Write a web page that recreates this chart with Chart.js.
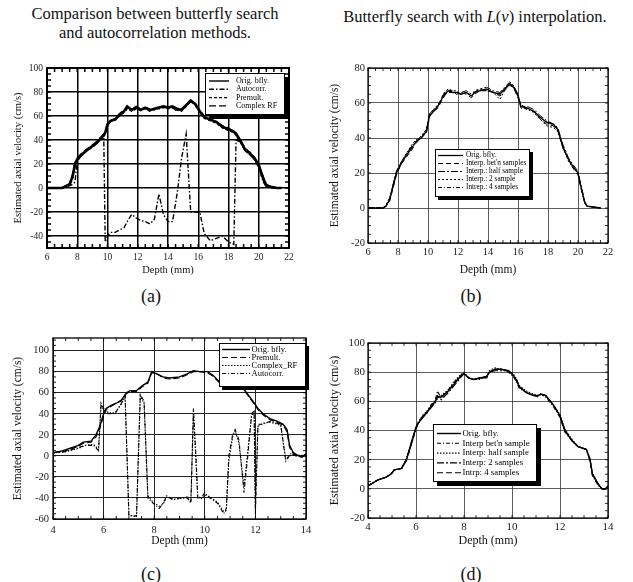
<!DOCTYPE html>
<html><head><meta charset="utf-8">
<script src="https://cdn.jsdelivr.net/npm/chart.js@4.4.0/dist/chart.umd.min.js"></script>
<style>
body{margin:0;background:#fff;width:633px;height:582px;position:relative;overflow:hidden;font-family:"Liberation Serif","Times New Roman",serif;color:#111;}
canvas{position:absolute;}
.t{position:absolute;white-space:nowrap;transform:translateX(-50%);text-align:center;}
</style></head><body>
<div class="t" style="left:155px;top:4px;font-size:16.5px;line-height:19px;">Comparison between butterfly search<br>and autocorrelation methods.</div>
<div class="t" style="left:475px;top:7px;font-size:16.5px;line-height:19px;">Butterfly search with <i>L</i>(<i>v</i>) interpolation.</div>
<div class="t" style="left:151px;top:286px;font-size:18px;line-height:20px;">(a)</div>
<div class="t" style="left:471px;top:286px;font-size:18px;line-height:20px;">(b)</div>
<div class="t" style="left:151px;top:564px;font-size:18px;line-height:20px;">(c)</div>
<div class="t" style="left:471px;top:564px;font-size:18px;line-height:20px;">(d)</div>
<canvas id="ca"></canvas>
<canvas id="cb"></canvas>
<canvas id="cc"></canvas>
<canvas id="cd"></canvas>
<script>
// ---------- Panel (a) ----------
const A_depth = [6.0,7.0,7.3,7.5,7.7,7.85,8.0,8.3,8.6,8.9,9.3,9.6,9.75,9.85,10.0,10.2,10.5,10.8,11.1,11.3,11.6,11.9,12.2,12.5,12.8,13.1,13.4,13.7,14.0,14.3,14.6,14.9,15.2,15.5,15.8,16.1,16.4,16.8,17.2,17.6,18.0,18.35,18.5,18.8,19.1,19.4,19.7,20.0,20.3,20.5,20.8,21.2,21.5];
const A_orig = [0,0,2,3,10,20,24,28,31,34,38,42,44,46,53,56,57,61,64,68,65,67,65,67,65,66,67,68,67,68,66,65,69,73,70,64,59,57,55,51,49,47,45,39,32,29,25,19,8,2,1,0,0];
const A_autocorr = [0,0,1,2,3,5,22,28,32,34,37,41,44,-45,-40,-37,-37,-35,-33,-28,-22,-25,-27,-28,-30,-26,-5,-22,-28,-28,-5,25,45,-20,-20,-20,-38,-44,-42,-40,-45,-47,40,38,31,28,24,17,5,1,0,0,0];
const A_premult = [0,0,2,3,8,18,23,27,31,33,37,41,43,45,52,55,57,60,63,66,64,66,65,66,64,66,66,67,66,67,65,64,68,72,69,63,58,56,54,50,48,46,44,38,31,28,24,18,6,2,1,0,0];
const A_complex = [0,0,2,4,12,21,25,29,32,35,39,43,45,47,54,56,58,62,65,67,66,68,66,67,66,65,68,67,68,67,64,66,70,72,70,65,60,57,55,52,50,47,46,40,33,30,26,20,9,3,1,0,0];
const A_xTicks = [6,8,10,12,14,16,18,20,22];
const A_yTicks = [-40,-20,0,20,40,60,80,100];

// ---------- Panel (b) ----------
const B_depth = [6.0,7.0,7.2,7.45,7.6,7.75,7.9,8.2,8.55,8.9,9.2,9.55,9.9,10.1,10.35,10.65,10.9,11.1,11.35,11.65,11.9,12.2,12.55,12.9,13.1,13.45,13.9,14.35,14.8,15.1,15.45,15.7,16.0,16.2,16.65,17.1,17.45,17.9,18.35,18.65,19.0,19.35,19.65,20.0,20.2,20.45,20.6,21.5];
const B_orig = [0,0,1,5,10,15,20,25,30,34,38,40,44,53,55,58,62,65,67,66,66,65,66,64,66,67,68,66,65,68,71,69,64,58,57,55,52,49,48,45,35,28,24,20,12,3,1,0];
const B_betn = [0,0,1,4,9,14,19,25,29,33,37,40,43,52,55,57,61,64,67,67,65,66,65,63,65,67,67,66,64,67,70,69,63,57,57,55,51,48,47,44,34,28,23,19,11,3,1,0];
const B_half = [0,0,1,5,11,16,21,26,31,35,38,41,45,54,56,58,63,66,68,66,66,66,67,65,66,68,69,67,66,69,72,70,65,58,58,56,53,50,48,46,36,29,25,21,13,4,1,0];
const B_two = [0,0,2,6,11,16,21,26,31,36,39,41,45,54,56,59,62,66,68,67,67,65,66,64,67,68,67,66,62,67,71,70,64,59,57,54,51,47,46,44,35,27,23,20,12,3,1,0];
const B_four = [0,0,1,5,10,15,21,26,30,35,38,40,44,53,56,58,62,65,66,66,66,65,66,64,66,67,68,66,65,68,71,69,64,58,56,55,52,49,47,45,34,28,23,20,12,3,1,0];
const B_xTicks = [6,8,10,12,14,16,18,20,22];
const B_yTicks = [-20,0,20,40,60,80];

// ---------- Panel (c) ----------
const C_depth = [4.0,4.4,4.65,5.0,5.2,5.5,5.7,5.85,6.0,6.1,6.3,6.5,6.7,6.9,7.05,7.3,7.55,7.75,7.9,8.1,8.35,8.6,9.0,9.3,9.55,9.8,10.1,10.3,10.6,10.75,11.0,11.25,11.45,11.65,11.9,12.1,12.3,12.6,12.85,13.1,13.25,13.35,13.5,13.7,13.85,14.0];
const C_orig = [3,5,7,10,13,14,20,28,40,45,48,50,53,60,62,62,67,70,80,78,75,74,75,78,81,80,80,77,70,67,65,64,66,60,52,45,40,35,33,30,25,10,3,0,-1,2];
const C_premult = [3,4,6,9,12,13,18,26,38,44,47,50,52,59,61,61,66,69,79,78,74,73,74,77,80,80,79,76,69,66,64,63,65,59,51,44,39,34,32,29,23,8,2,-1,-1,1];
const C_exDepth = [4.0,4.5,5.0,5.3,5.6,5.8,5.9,6.0,6.2,6.45,6.7,6.85,7.0,7.3,7.45,7.6,7.75,7.95,8.2,8.35,8.5,8.75,9.0,9.3,9.45,9.55,9.65,9.72,9.85,10.0,10.2,10.5,10.75,10.85,10.95,11.1,11.2,11.35,11.55,11.7,11.85,11.95,12.0,12.1,12.3,12.6,13.0,13.2,13.4,13.6,14.0];
const C_complex = [3,4,7,10,11,6,48,44,41,41,49,56,-56,-58,57,50,-38,-44,-48,-46,-39,-41,-41,-39,-44,40,-5,-38,-41,-37,-39,-44,-53,-52,-5,18,24,12,-30,5,38,42,-50,28,31,32,29,-3,1,1,0];
const C_autocorr = [3,4,8,10,10,5,50,45,40,40,50,57,-57,-57,58,52,-40,-45,-50,-45,-38,-42,-40,-40,-45,45,0,-40,-40,-35,-40,-45,-55,-50,0,20,25,15,-35,0,40,43,-55,30,30,33,30,-5,2,0,0];
const C_xTicks = [4,6,8,10,12,14];
const C_yTicks = [-60,-40,-20,0,20,40,60,80,100];

// ---------- Panel (d) ----------
const D_depth = [4.0,4.2,4.4,4.75,4.95,5.1,5.4,5.6,5.75,6.0,6.1,6.3,6.45,6.55,6.8,6.9,7.05,7.35,7.6,7.85,8.0,8.2,8.4,8.65,8.95,9.05,9.3,9.55,9.85,10.05,10.2,10.3,10.6,10.9,11.1,11.2,11.4,11.7,12.0,12.2,12.5,12.75,13.1,13.25,13.35,13.6,13.75,13.9,14.0];
const D_orig = [2,4,6,8,10,13,14,20,28,42,45,50,52,55,60,63,63,67,72,77,79,76,75,76,77,80,82,82,81,78,74,70,66,64,64,65,64,58,50,40,33,29,27,20,10,3,0,0,2];
const D_betn = [2,4,6,8,10,13,14,19,27,41,45,50,53,56,61,67,62,68,73,78,79,76,75,76,77,80,82,82,80,77,73,69,66,64,64,65,63,57,49,39,33,29,27,19,9,2,0,0,2];
const D_half = [2,4,6,8,10,13,14,21,29,43,46,51,53,55,59,62,64,68,74,78,80,76,75,75,77,81,83,82,81,79,75,71,67,65,64,65,64,58,51,41,34,29,27,21,11,3,0,0,2];
const D_two = [2,4,6,8,10,13,14,20,28,42,45,49,52,54,59,64,61,66,71,76,79,76,75,76,76,80,81,81,81,78,74,70,66,64,63,65,64,58,50,40,33,29,27,20,10,3,0,0,2];
const D_four = [2,4,6,8,10,13,14,20,29,42,46,50,52,55,60,63,63,67,73,77,79,76,75,76,77,80,82,82,81,78,74,70,66,64,64,65,64,58,50,40,33,29,27,20,10,3,0,0,2];
const D_xTicks = [4,6,8,10,12,14];
const D_yTicks = [-20,0,20,40,60,80,100];

const FONT = '"Liberation Serif", "Times New Roman", serif';
function pts(xs, ys){ return xs.map((x,i)=>({x:x, y:ys[i]})); }

const framePlugin = {
  id:'frame',
  afterDatasetsDraw(chart, args, o){
    const {ctx, chartArea:a, scales:{x, y}} = chart;
    ctx.save();
    ctx.strokeStyle = '#000';
    ctx.lineWidth = o.tickWidth;
    ctx.beginPath();
    const nx = Math.round((x.max - x.min)/o.xMinor);
    for (let i=0;i<=nx;i++){
      const px = x.getPixelForValue(x.min + i*o.xMinor);
      ctx.moveTo(px, a.bottom); ctx.lineTo(px, a.bottom - o.tickLen);
      ctx.moveTo(px, a.top); ctx.lineTo(px, a.top + o.tickLen);
    }
    const y0 = Math.ceil(y.min/o.yMinor)*o.yMinor;
    const ny = Math.floor((y.max - y0)/o.yMinor);
    for (let i=0;i<=ny;i++){
      const py = y.getPixelForValue(y0 + i*o.yMinor);
      ctx.moveTo(a.left, py); ctx.lineTo(a.left + o.tickLen, py);
      ctx.moveTo(a.right, py); ctx.lineTo(a.right - o.tickLen, py);
    }
    ctx.stroke();
    ctx.lineWidth = o.frameWidth;
    ctx.strokeRect(a.left, a.top, a.right - a.left, a.bottom - a.top);
    ctx.restore();
  }
};

const boxLegend = {
  id:'boxLegend',
  afterDraw(chart, args, o){
    const ctx = chart.ctx;
    const bx = o.x - o.ox, by = o.y - o.oy;
    ctx.save();
    ctx.fillStyle = '#000';
    ctx.fillRect(bx + o.shadow, by + o.shadow, o.w, o.h);
    ctx.fillStyle = '#fff';
    ctx.fillRect(bx, by, o.w, o.h);
    ctx.strokeStyle = '#000'; ctx.lineWidth = 1;
    ctx.strokeRect(bx + 0.5, by + 0.5, o.w - 1, o.h - 1);
    ctx.font = o.fontSize + 'px ' + FONT;
    ctx.textBaseline = 'middle';
    chart.data.datasets.forEach((ds, i) => {
      const yy = o.row0 - o.oy + i*o.rowStep;
      ctx.setLineDash(ds.borderDash || []);
      ctx.lineWidth = Math.min(ds.borderWidth, 1.4);
      ctx.beginPath(); ctx.moveTo(o.lx0 - o.ox, yy); ctx.lineTo(o.lx1 - o.ox, yy); ctx.stroke();
      ctx.setLineDash([]);
      ctx.fillStyle = '#000';
      ctx.fillText(ds.label, o.tx - o.ox, yy);
    });
    ctx.restore();
  }
};

function build(id, c){
  const cv = document.getElementById(id);
  cv.width = c.cw; cv.height = c.ch;
  cv.style.left = c.cx + 'px'; cv.style.top = c.cy + 'px';
  cv.style.width = c.cw + 'px'; cv.style.height = c.ch + 'px';
  const tickLH = c.tickFont*1.2, titleLH = c.titleFont*1.2;
  const lg = Object.assign({ox:c.cx, oy:c.cy}, c.legend);
  new Chart(cv, {
    type:'line',
    data:{ datasets: c.series.map(s => ({
      label:s.label, data:pts(s.xs, s.ys), borderColor:'#000', borderWidth:s.w,
      borderDash:s.dash, pointRadius:0, tension:0, fill:false
    }))},
    options:{
      responsive:false, animation:false, devicePixelRatio:1,
      layout:{padding:{left:0, top:c.plot.t - c.cy, right:c.cx + c.cw - c.plot.r, bottom:0}},
      plugins:{legend:{display:false}, tooltip:{enabled:false},
        frame:c.frame, boxLegend:lg},
      scales:{
        x:{type:'linear', min:c.xr[0], max:c.xr[1],
          afterBuildTicks:s => { s.ticks = c.xTicks.map(v => ({value:v})); },
          afterFit:s => { s.height = c.cy + c.ch - c.plot.b; },
          grid:{color:c.gridColor, lineWidth:c.gridW, drawTicks:false},
          border:{display:false},
          ticks:{padding:c.xTickY - c.plot.b - tickLH/2, autoSkip:false, maxRotation:0,
            font:{family:FONT, size:c.tickFont}, color:'#222'},
          title:{display:true, text:'Depth (mm)', color:'#111', font:{family:FONT, size:c.titleFont},
            padding:{top:0, bottom:c.cy + c.ch - c.xTitleY - titleLH/2}}
        },
        y:{type:'linear', min:c.yr[0], max:c.yr[1],
          afterBuildTicks:s => { s.ticks = c.yTicks.map(v => ({value:v})); },
          afterFit:s => { s.width = c.plot.l - c.cx; },
          grid:{color:c.gridColor, lineWidth:c.gridW, drawTicks:false},
          border:{display:false},
          ticks:{padding:c.plot.l - c.yTickR, autoSkip:false,
            font:{family:FONT, size:c.tickFont}, color:'#222'},
          title:{display:true, text:'Estimated axial velocity (cm/s)', color:'#111', font:{family:FONT, size:c.titleFont},
            padding:{top:c.yTitleX - c.cx - titleLH/2, bottom:0}}
        }
      }
    },
    plugins:[framePlugin, boxLegend]
  });
}

build('ca', {
  cx:0, cy:45, cw:316, ch:245, plot:{l:47, t:68, r:289, b:248},
  xr:[6,22], yr:[-50,100], xTicks:A_xTicks, yTicks:A_yTicks,
  tickFont:9.5, titleFont:10.5, xTickY:257, xTitleY:270, yTitleX:18, yTickR:43,
  gridColor:'#000', gridW:1.5,
  frame:{xMinor:0.5, yMinor:5, tickLen:4, tickWidth:1.5, frameWidth:2},
  series:[
    {label:'Orig. bfly.', xs:A_depth, ys:A_orig, w:2.6, dash:[]},
    {label:'Autocorr.', xs:A_depth, ys:A_autocorr, w:1.4, dash:[5,2,1.5,2]},
    {label:'Premult.', xs:A_depth, ys:A_premult, w:1.4, dash:[3,2]},
    {label:'Complex RF', xs:A_depth, ys:A_complex, w:1.4, dash:[7,3]}
  ],
  legend:{x:205, y:73, w:80, h:42, shadow:4, row0:81, rowStep:8.3, lx0:209, lx1:229, tx:236, fontSize:8}
});

build('cb', {
  cx:316, cy:45, cw:317, ch:245, plot:{l:368, t:68, r:608, b:243},
  xr:[6,22], yr:[-20,80], xTicks:B_xTicks, yTicks:B_yTicks,
  tickFont:10.5, titleFont:11.5, xTickY:252, xTitleY:270, yTitleX:335, yTickR:365,
  gridColor:'#333', gridW:0.8,
  frame:{xMinor:0.5, yMinor:5, tickLen:3, tickWidth:0.8, frameWidth:1.2},
  series:[
    {label:'Orig. bfly.', xs:B_depth, ys:B_orig, w:1.3, dash:[]},
    {label:"Interp. bet'n samples", xs:B_depth, ys:B_betn, w:1, dash:[5,3]},
    {label:'Interp.: half sample', xs:B_depth, ys:B_half, w:1, dash:[7,2,2,2]},
    {label:'Interp.: 2 sample', xs:B_depth, ys:B_two, w:1, dash:[2,2]},
    {label:'Intrep.: 4 samples', xs:B_depth, ys:B_four, w:1, dash:[4,2,1,2]}
  ],
  legend:{x:435, y:149, w:95, h:48, shadow:3, row0:155.5, rowStep:8, lx0:438, lx1:463, tx:466, fontSize:7.3}
});

build('cc', {
  cx:0, cy:318, cw:316, ch:244, plot:{l:53, t:338, r:306, b:519},
  xr:[4,14], yr:[-60,112], xTicks:C_xTicks, yTicks:C_yTicks,
  tickFont:10.5, titleFont:11.5, xTickY:530, xTitleY:541, yTitleX:18, yTickR:49,
  gridColor:'#222', gridW:1,
  frame:{xMinor:0.5, yMinor:5, tickLen:3, tickWidth:0.9, frameWidth:1.3},
  series:[
    {label:'Orig. bfly.', xs:C_depth, ys:C_orig, w:1.4, dash:[]},
    {label:'Premult.', xs:C_depth, ys:C_premult, w:1.1, dash:[6,3]},
    {label:'Complex_RF', xs:C_exDepth, ys:C_complex, w:1.1, dash:[1.5,1.5]},
    {label:'Autocorr.', xs:C_exDepth, ys:C_autocorr, w:1.1, dash:[4,2,1,2]}
  ],
  legend:{x:219, y:343, w:87, h:44, shadow:3, row0:349.5, rowStep:8, lx0:222, lx1:250, tx:251.5, fontSize:8.5}
});

build('cd', {
  cx:316, cy:318, cw:317, ch:244, plot:{l:368, t:343, r:608, b:518},
  xr:[4,14], yr:[-20,100], xTicks:D_xTicks, yTicks:D_yTicks,
  tickFont:11, titleFont:12, xTickY:527, xTitleY:541, yTitleX:335, yTickR:365,
  gridColor:'#333', gridW:0.8,
  frame:{xMinor:0.5, yMinor:5, tickLen:3, tickWidth:0.8, frameWidth:1.2},
  series:[
    {label:'Orig. bfly.', xs:D_depth, ys:D_orig, w:1.4, dash:[]},
    {label:"Interp bet'n sample", xs:D_depth, ys:D_betn, w:1.1, dash:[4,2,1,2]},
    {label:'Interp: half sample', xs:D_depth, ys:D_half, w:1.1, dash:[1.5,1.5]},
    {label:'Interp: 2 samples', xs:D_depth, ys:D_two, w:1.1, dash:[7,2,2,2]},
    {label:'Intrp: 4 samples', xs:D_depth, ys:D_four, w:1.1, dash:[6,3]}
  ],
  legend:{x:433, y:424, w:104, h:58, shadow:4, row0:433.5, rowStep:9.8, lx0:437, lx1:461, tx:462.5, fontSize:8.8}
});
</script>
</body></html>
